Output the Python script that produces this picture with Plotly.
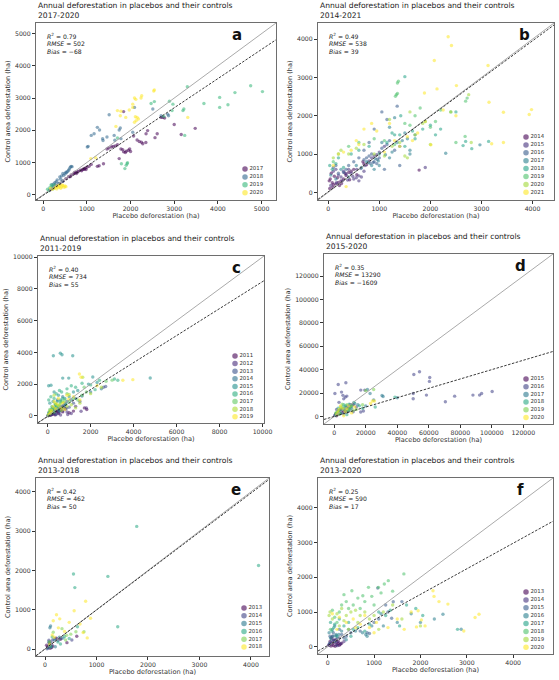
import plotly.graph_objects as go
from plotly.colors import sample_colorscale

# ---- panel a : 2017-2020 ----
A_YEARS = [2017, 2018, 2019, 2020]
A_X = [
    [150, 220, 300, 380, 450, 520, 580, 640, 700, 730, 760, 800, 850, 900, 930, 960, 1000, 1050, 1100, 720, 880, 980,
     1240, 1380, 1280, 1500, 1560, 1600, 1650, 1700, 1460, 1820, 1840, 1900, 1950, 1740, 2070, 2150, 2250, 2280, 2350,
     2355, 2390, 2610, 2560, 2700, 2740, 2780, 3000, 3160, 3480, 1980, 2000, 1880, 1780, 1840, 2200, 620, 780, 940],
    [200, 240, 300, 350, 380, 420, 470, 500, 530, 560, 600, 620, 640, 660, 580, 450, 520, 400, 320, 270,
     1010, 1030, 1100, 1165, 1240, 1290, 1360, 1370, 1460, 1510, 1625, 1740, 1765, 2090, 1780, 2700, 2850, 2870,
     2510, 2050, 1640, 230, 280, 360, 440],
    [100, 150, 200, 250, 1920, 1930, 1900, 1870, 1790, 3200, 3220, 3300, 3680, 4040, 4040, 4230, 4390, 4750, 5020,
     2890, 2950, 2970, 2760, 2470, 2545, 3240, 1700, 130, 180, 220],
    [170, 210, 280, 300, 330, 360, 380, 420, 450, 480, 500, 350, 400, 260, 1090, 1200, 2530, 2545, 2090, 2120, 2240,
     2255, 2050, 2050, 1700, 1780, 1765, 1665, 1890, 2110, 2150, 2180, 2130, 2090, 3310, 1970, 310, 440, 520],
]
A_Y = [
    [140, 200, 270, 340, 420, 500, 560, 610, 650, 700, 660, 720, 760, 780, 800, 820, 850, 880, 940, 680, 740, 780,
     880, 960, 900, 1450, 1480, 1500, 1510, 1550, 1420, 1400, 1330, 1350, 1380, 1120, 1820, 1700, 1630, 1580, 1620,
     1890, 1990, 1890, 1770, 2400, 2400, 2380, 2180, 1870, 2060, 1420, 1340, 1310, 1420, 2580, 1650, 560, 700, 790],
    [310, 330, 400, 330, 550, 580, 600, 650, 680, 720, 800, 850, 880, 870, 760, 660, 700, 480, 460, 380,
     1480, 1500, 1840, 1890, 2090, 2010, 1740, 1680, 1790, 2480, 1840, 2010, 2070, 2710, 1740, 2450, 2500, 2450,
     2660, 1940, 1690, 250, 300, 360, 420],
    [170, 220, 250, 300, 960, 990, 910, 810, 960, 2610, 2660, 3350, 2830, 3020, 2710, 2790, 3170, 3380, 3200,
     2900, 2610, 2810, 2430, 2830, 2890, 1840, 1760, 120, 300, 180],
    [195, 165, 230, 260, 280, 260, 300, 240, 280, 230, 270, 220, 200, 200, 1120, 1150, 3220, 3250, 3000, 2960, 3000,
     3070, 2810, 2710, 2610, 2590, 2450, 2120, 2400, 2420, 2400, 2350, 2300, 2250, 2400, 2630, 180, 300, 250],
]
A_STATS = ["0.79", "502", "\u221268"]
A_FIT = (0.906, -20)

# ---- panel b : 2014-2021 ----
B_YEARS = [2014, 2015, 2016, 2017, 2018, 2019, 2020, 2021]
B_X = [
    [20, 40, 80, 100, 150, 200, 120, 60, 250, 300, 330, 400, 450, 500, 700, 680, 750, 1780, 30, 180, 220, 90, 350,
     260, 420, 560],
    [50, 100, 150, 200, 250, 300, 350, 400, 450, 500, 550, 600, 650, 700, 800, 850, 900, 950, 1000, 1100, 1900,
     600, 560, 380, 720, 160, 280, 480],
    [100, 150, 200, 300, 350, 400, 500, 600, 700, 750, 800, 850, 900, 950, 1000, 1050, 1150, 1200, 1300, 1400,
     1050, 900, 1150, 1350, 800, 700, 1400, 1100, 880, 960, 640, 820],
    [50, 150, 250, 400, 550, 650, 750, 850, 900, 1000, 1050, 1200, 1250, 1350, 1450, 1500, 1550, 1600, 1700,
     2300, 2970, 1200, 1300, 1600, 920, 980, 780, 1120],
    [30, 80, 150, 200, 300, 450, 600, 800, 1000, 1150, 1250, 1400, 1500, 1650, 1700, 1850, 2000, 2100, 2200,
     2500, 2640, 2690, 2810, 3140, 1500, 1420, 1300],
    [1316, 1335, 1355, 1355, 1374, 100, 200, 400, 600, 900, 1100, 1300, 1500, 1600, 1700, 1800, 1900, 2000, 2200,
     2400, 2690, 2720, 2680, 2500, 2100],
    [100, 250, 400, 550, 700, 900, 1100, 1250, 1400, 1500, 1550, 1700, 2000, 2400, 2750, 2800, 1200, 1600, 1850],
    [100, 200, 300, 350, 450, 550, 600, 700, 850, 950, 1100, 1200, 1300, 1400, 1550, 1650, 1750, 1900, 2010,
     2077, 2130, 1884, 2348, 2413, 2510, 3129, 3148, 3430, 3935, 3980, 3200, 3430, 2500, 2250],
]
B_Y = [
    [300, 350, 250, 200, 220, 260, 420, 500, 300, 350, 500, 520, 550, 600, 740, 800, 720, 580, 100, 380, 180, 130, 440,
     230, 330, 460],
    [180, 550, 600, 450, 400, 550, 480, 600, 500, 350, 380, 430, 400, 550, 820, 900, 950, 980, 1050, 1200, 650,
     300, 600, 320, 700, 250, 300, 420],
    [650, 700, 500, 520, 600, 700, 800, 900, 850, 900, 950, 1000, 800, 750, 900, 1150, 1250, 1350, 1100, 1200,
     2100, 1650, 1900, 2250, 1300, 1100, 700, 600, 780, 860, 620, 760],
    [450, 350, 600, 400, 700, 650, 800, 700, 600, 700, 1300, 900, 1050, 1300, 1350, 1550, 1400, 1100, 1500,
     1020, 1240, 1700, 1950, 1000, 880, 820, 780, 980],
    [700, 600, 750, 900, 650, 1000, 1100, 1200, 1000, 1300, 1550, 1500, 1200, 1600, 1400, 1650, 1750, 1500, 1650,
     2100, 1220, 1330, 1140, 1330, 3020, 2000, 1500],
    [2510, 2550, 2580, 2855, 2900, 800, 1000, 1200, 1300, 1400, 1350, 1250, 1800, 1750, 2000, 2200, 1850, 1700, 2150,
     2100, 2380, 2460, 1460, 1300, 1850],
    [900, 1100, 1000, 1150, 1250, 1000, 950, 1200, 1300, 950, 900, 1500, 1250, 2100, 2550, 1300, 1900, 2100, 1800],
    [700, 1000, 1050, 150, 1100, 1350, 1250, 1650, 1800, 1600, 1050, 1800, 1350, 1200, 1450, 1350, 1550, 1850, 1240,
     3440, 2700, 2594, 4060, 3834, 2786, 3310, 2350, 2090, 2030, 2160, 1270, 1300, 2000, 2150],
]
B_STATS = ["0.49", "538", "39"]
B_FIT = (0.985, 15)

# ---- panel c : 2011-2019 ----
C_YEARS = [2011, 2012, 2013, 2014, 2015, 2016, 2017, 2018, 2019]
C_X = [
    [50, 100, 200, 300, 150, 400, 600, 800, 1200, 1710, 1820, 1000, 500, 250, 350, 700, 20, 90, 180, 450, 560],
    [80, 250, 350, 450, 700, 900, 1100, 1555, 933, 1300, 1800, 600, 150, 520, 820, 30, 120, 280, 400, 650],
    [120, 300, 500, 650, 800, 1000, 1200, 1500, 400, 2600, 2700, 200, 560, 880, 60, 160, 240, 380, 720],
    [60, 200, 350, 550, 750, 900, 1100, 1300, 1600, 2000, 2500, 700, 450, 280, 620, 20, 110, 320, 480, 820],
    [264, 590, 668, 1166, 47, 155, 700, 980, 300, 500, 100, 250, 600, 800, 1000, 1200, 400, 4774, 2100, 1400, 1900,
     2300, 180, 350, 60, 130, 220, 450, 520],
    [50, 150, 300, 400, 550, 650, 900, 1100, 1300, 1600, 2000, 2208, 2410, 3110, 3266, 600, 200, 850, 450, 120,
     80, 260, 380, 700],
    [100, 250, 400, 600, 800, 1000, 1200, 1400, 1600, 1800, 2720, 3000, 1700, 900, 300, 520, 40, 180, 340, 680],
    [80, 200, 350, 500, 700, 900, 1100, 1300, 1500, 1633, 2000, 2500, 1000, 300, 420, 650, 30, 140, 560, 760],
    [150, 300, 500, 700, 900, 1200, 1477, 1555, 3500, 3965, 1500, 2300, 600, 800, 250, 420, 70, 180, 360, 980],
]
C_Y = [
    [30, 80, 150, 200, 120, 300, 400, 500, 300, 500, 400, 200, 150, 100, 60, 250, 10, 40, 90, 250, 330],
    [60, 250, 100, 350, 300, 250, 150, 290, 84, 600, 500, 50, 40, 180, 420, 20, 90, 200, 320, 480],
    [150, 350, 450, 600, 700, 550, 800, 900, 100, 1800, 1850, 120, 300, 480, 70, 180, 260, 410, 620],
    [200, 300, 500, 300, 650, 900, 1000, 1100, 1250, 1500, 1700, 1200, 1000, 250, 550, 30, 130, 380, 440, 760],
    [3790, 3950, 3850, 3790, 1900, 1930, 2380, 2380, 1500, 1300, 800, 900, 1000, 1100, 1200, 1500, 600, 2385, 2450,
     1600, 2000, 2100, 400, 700, 200, 300, 520, 900, 460],
    [1000, 1200, 1100, 1400, 1600, 1500, 1700, 1900, 1800, 2050, 1950, 1650, 2240, 2320, 2240, 900, 600, 750, 500, 300,
     150, 400, 700, 1100],
    [400, 500, 700, 800, 1000, 900, 1100, 1000, 1300, 1500, 2180, 2250, 1800, 1400, 250, 600, 60, 300, 450, 900],
    [300, 250, 800, 650, 500, 600, 700, 500, 800, 2430, 1400, 1800, 1350, 1300, 450, 350, 50, 180, 700, 850],
    [200, 900, 1100, 800, 1300, 1200, 2640, 2430, 2240, 2280, 1000, 1900, 500, 400, 600, 750, 120, 350, 450, 1050],
]
C_STATS = ["0.40", "734", "55"]
C_FIT = (0.85, -45)

# ---- panel d : 2015-2020 ----
D_YEARS = [2015, 2016, 2017, 2018, 2019, 2020]
D_X = [
    [1000, 3000, 5000, 7000, 2000, 9000, 4000, 12000, 500, 6000, 10500, 1500, 3500, 8000],
    [2526, 421, 7370, 8000, 6000, 7000, 5500, 4630, 50500, 54100, 60600, 60400, 50100, 50100, 58500, 70500, 76400,
     88000, 92200, 93500, 100200, 18500, 16800, 16840, 19370, 3000, 1500, 8000, 10000, 12000, 14000, 500, 4500],
    [21050, 22740, 30310, 31000, 40000, 2000, 5000, 8000, 11000, 13000, 15000, 6000, 9000, 25000, 20000, 3500,
     1000, 7000, 10000],
    [38500, 1000, 3000, 5000, 7000, 9000, 11000, 4000, 2500, 6000, 12500, 16000, 18000, 26000, 8000, 10000,
     1500, 3500, 5500, 7500, 9500],
    [2000, 4000, 6000, 8000, 10000, 3000, 12000, 14000, 25000, 20000, 5000, 18000, 7000, 1000, 9000, 11000],
    [1500, 3000, 5000, 7000, 9000, 4000, 24200, 25500, 23000, 11000, 6000, 2500, 8000, 13000],
]
D_Y = [
    [2000, 4000, 3000, 5000, 1500, 7000, 6000, 10000, 800, 4500, 8500, 500, 2500, 3500],
    [27300, 19600, 28700, 17350, 15000, 16500, 18000, 20760, 35800, 38100, 33300, 29900, 19600, 15100, 18200, 12500,
     17300, 18200, 18200, 19600, 21300, 4550, 3700, 22470, 22470, 12000, 6000, 8000, 10000, 4000, 8000, 1000, 5000],
    [23040, 19620, 17920, 17000, 15900, 3000, 6000, 9000, 7000, 11000, 10000, 2000, 4500, 14000, 9000, 5000,
     2000, 7500, 5500],
    [16500, 1000, 5000, 8000, 9000, 6000, 9500, 3000, 7000, 10000, 12000, 9000, 7000, 8000, 1500, 7500,
     3000, 2000, 6500, 4500, 10500],
    [4000, 8000, 6000, 10000, 8000, 2000, 5000, 6000, 23000, 22000, 10500, 10000, 7000, 3000, 5500, 9000],
    [1500, 6000, 7000, 4000, 9000, 9000, 13100, 13100, 11000, 3000, 500, 3500, 6500, 8000],
]
D_STATS = ["0.35", "13290", "\u22121609"]
D_FIT = (0.40, 0)

# ---- panel e : 2013-2018 ----
E_YEARS = [2013, 2014, 2015, 2016, 2017, 2018]
E_X = [
    [617, 426, 50, 100, 30, 150, 220, 300, 80, 130, 60],
    [76, 95, 108, 521, 200, 120, 40, 250, 310, 150],
    [108, 95, 60, 180, 280, 350, 120, 75, 200, 90],
    [1781, 4147, 553, 1221, 579, 1412, 630, 140, 110, 250, 380, 470, 300],
    [757, 400, 600, 160, 330, 420, 500, 90],
    [789, 566, 223, 286, 820, 884, 160, 260, 380, 470, 680, 740, 140, 90, 180],
]
E_Y = [
    [328, 164, 60, 20, 100, 80, 280, 250, 160, 40, 40],
    [225, 138, 181, 233, 270, 100, 10, 220, 270, 230],
    [587, 544, 30, 230, 300, 280, 60, 180, 60, 100],
    [3119, 2125, 1909, 1849, 1564, 570, 570, 310, 60, 180, 320, 270, 130],
    [440, 230, 440, 430, 520, 350, 380, 180],
    [1218, 976, 873, 769, 285, 786, 720, 540, 450, 680, 640, 420, 360, 120, 300],
]
E_STATS = ["0.42", "462", "50"]
E_FIT = (0.99, 5)

# ---- panel f : 2013-2020 ----
F_YEARS = [2013, 2014, 2015, 2016, 2017, 2018, 2019, 2020]
F_X = [
    [100, 150, 200, 250, 50, 120, 180, 300, 80, 230, 160, 220, 30, 70, 130, 270],
    [60, 130, 200, 280, 100, 180, 250, 40, 350, 160, 20, 90, 210],
    [1079, 1414, 1379, 1250, 50, 120, 200, 300, 400, 500, 700, 850, 900, 1000, 1300, 1100, 250, 1600, 80,
     40, 150, 180, 350],
    [2879, 2486, 2300, 30, 100, 180, 300, 450, 600, 750, 820, 850, 950, 1150, 1200, 1500, 1800, 2000, 150, 400,
     60, 120, 240],
    [60, 150, 250, 350, 450, 550, 650, 800, 900, 1100, 1250, 1350, 1550, 1700, 1900, 2050, 2800, 200, 500, 90, 130],
    [1643, 1307, 1221, 1093, 879, 757, 521, 350, 400, 650, 800, 950, 1150, 450, 250, 100, 300, 550, 700, 1400, 150,
     1000, 60, 200],
    [30, 100, 200, 300, 400, 500, 600, 700, 800, 1000, 1200, 1400, 250, 350, 450, 650, 900, 1600, 1100, 2000, 50],
    [2271, 2293, 1950, 2021, 1914, 2593, 3179, 3264, 2936, 100, 250, 400, 550, 700, 800, 900, 1050, 1300, 1500, 1650,
     1800, 2100, 2400, 1000, 600, 200],
]
F_Y = [
    [80, 120, 60, 40, 150, 30, 200, 100, 250, 150, 10, 100, 50, 20, 180, 70],
    [100, 200, 140, 90, 300, 50, 250, 60, 150, 170, 40, 120, 30],
    [1690, 1295, 821, 1200, 300, 400, 250, 350, 300, 400, 450, 400, 380, 700, 1000, 800, 500, 1300, 200,
     100, 150, 320, 250],
    [502, 937, 800, 400, 500, 350, 450, 500, 450, 400, 350, 300, 600, 950, 600, 700, 950, 700, 600, 200,
     250, 300, 350],
    [700, 650, 800, 600, 700, 500, 550, 450, 650, 1000, 900, 1050, 600, 1200, 1100, 900, 500, 300, 300, 450, 550],
    [2097, 1903, 1807, 1710, 1710, 1469, 1614, 1500, 1300, 1400, 1300, 1450, 1550, 1100, 1000, 1050, 1200, 1200, 1100,
     1600, 850, 1200, 500, 700],
    [900, 800, 950, 1100, 900, 1000, 1050, 900, 1000, 900, 1000, 1200, 600, 750, 500, 700, 800, 800, 500, 600, 1000],
    [1614, 1449, 1034, 773, 570, 1227, 841, 937, 454, 950, 850, 700, 800, 650, 900, 550, 700, 550, 800, 500,
     1000, 600, 1300, 400, 550, 500],
]
F_STATS = ["0.25", "590", "17"]
F_FIT = (0.737, 33)

TITLE = "Annual deforestation in placebos and their controls"
PERIODS = ["2017-2020", "2014-2021", "2011-2019", "2015-2020", "2013-2018", "2013-2020"]
LETTERS = ["a", "b", "c", "d", "e", "f"]

W, H = 559, 680
FONT = "DejaVu Sans"

# box in px (left, top, right, bottom), axis limits, tick step,
# legend (marker x, first row y, row step), letter right-edge inset
panels = [
    dict(years=A_YEARS, xs=A_X, ys=A_Y, stats=A_STATS, fit=A_FIT, box=(36, 23, 276, 200),
         lim=(-165, 5330), dtick=1000, leg=(245, 169, 7.9), inset=32),
    dict(years=B_YEARS, xs=B_X, ys=B_Y, stats=B_STATS, fit=B_FIT, box=(318, 23, 554, 200),
         lim=(-200, 4420), dtick=1000, leg=(526, 137, 7.9), inset=22),
    dict(years=C_YEARS, xs=C_X, ys=C_Y, stats=C_STATS, fit=C_FIT, box=(38, 256, 264, 423),
         lim=(-450, 10070), dtick=2000, leg=(235, 356, 7.6), inset=21),
    dict(years=D_YEARS, xs=D_X, ys=D_Y, stats=D_STATS, fit=D_FIT, box=(324, 254, 553, 424),
         lim=(-6500, 138800), dtick=20000, leg=(526, 379, 7.7), inset=25),
    dict(years=E_YEARS, xs=E_X, ys=E_Y, stats=E_STATS, fit=E_FIT, box=(36, 478, 269, 656),
         lim=(-175, 4350), dtick=1000, leg=(244, 608, 7.8), inset=26),
    dict(years=F_YEARS, xs=F_X, ys=F_Y, stats=F_STATS, fit=F_FIT, box=(318, 478, 553, 654),
         lim=(-210, 4860), dtick=1000, leg=(526, 592, 7.9), inset=27),
]


def fx(p):
    return min(max(p / W, 0), 1)


def fy(p):
    return min(max(1 - p / H, 0), 1)


fig = go.Figure()
layout = {}
annotations = []

for i, pn in enumerate(panels):
    k = i + 1
    lk = k + 6
    xa, ya = ("x", "y") if k == 1 else (f"x{k}", f"y{k}")
    l, t, r, b = pn["box"]
    lo, hi = pn["lim"]
    n = len(pn["years"])
    colors = sample_colorscale("Viridis", [j / (n - 1) for j in range(n)])

    for j in range(n):
        fig.add_trace(go.Scatter(
            x=pn["xs"][j], y=pn["ys"][j], mode="markers", xaxis=xa, yaxis=ya,
            marker=dict(size=3.4, color=colors[j], opacity=0.55, line=dict(width=0)),
            showlegend=False, hoverinfo="skip"))

    # 1:1 line and fitted line
    fig.add_trace(go.Scatter(x=[lo, hi], y=[lo, hi], mode="lines", xaxis=xa, yaxis=ya,
                             line=dict(color="#a0a0a0", width=0.9), showlegend=False, hoverinfo="skip"))
    sl, ic = pn["fit"]
    fig.add_trace(go.Scatter(x=[lo, hi], y=[sl * lo + ic, sl * hi + ic], mode="lines", xaxis=xa, yaxis=ya,
                             line=dict(color="#222222", width=0.9, dash="2.5px,1.5px"),
                             showlegend=False, hoverinfo="skip"))

    axis_common = dict(range=[lo, hi], dtick=pn["dtick"], tick0=0, tickformat="d", showgrid=False,
                       zeroline=False, showline=True, mirror=True, linecolor="#6e6e6e", linewidth=1,
                       ticks="outside", ticklen=3, tickwidth=0.8, tickcolor="#333", automargin=False,
                       tickfont=dict(family=FONT, size=6.2, color="#333"))
    layout["xaxis" if k == 1 else f"xaxis{k}"] = dict(
        axis_common, domain=[fx(l), fx(r)], anchor=ya,
        title=dict(text="Placebo deforestation (ha)", font=dict(family=FONT, size=6.6, color="#333"), standoff=1))
    layout["yaxis" if k == 1 else f"yaxis{k}"] = dict(
        axis_common, domain=[fy(b), fy(t)], anchor=xa,
        title=dict(text="Control area deforestation (ha)", font=dict(family=FONT, size=6.6, color="#333"),
                   standoff=3))

    # legend drawn on its own small axes
    mx, y0, step = pn["leg"]
    layout[f"xaxis{lk}"] = dict(domain=[fx(mx - 5), fx(mx + 25)], range=[-1, 5], visible=False,
                                anchor=f"y{lk}", fixedrange=True, automargin=False)
    layout[f"yaxis{lk}"] = dict(domain=[fy(y0 + (n - 0.5) * step), fy(y0 - 0.5 * step)],
                                range=[n - 0.5, -0.5], visible=False, anchor=f"x{lk}", fixedrange=True,
                                automargin=False)
    fig.add_trace(go.Scatter(
        x=[0] * n, y=list(range(n)), text=[str(yr) for yr in pn["years"]], mode="markers+text",
        textposition="middle right", textfont=dict(family=FONT, size=5.4, color="#333"),
        marker=dict(size=5.5, color=colors, opacity=0.6, line=dict(width=0)),
        xaxis=f"x{lk}", yaxis=f"y{lk}", showlegend=False, hoverinfo="skip", cliponaxis=False))
    annotations.append(dict(text="Year", xref=f"x{lk}", yref=f"y{lk}", x=2.2, y=-1.15, showarrow=False,
                            xanchor="center", yanchor="middle", font=dict(family=FONT, size=6.4, color="#333")))

    # titles, stats and panel letter
    annotations.append(dict(text=TITLE + "<br>" + PERIODS[i], xref="paper", yref="paper", x=fx(l), y=fy(t - 1),
                            xanchor="left", yanchor="bottom", align="left", showarrow=False,
                            font=dict(family=FONT, size=7.6, color="#222")))
    r2, rmse, bias = pn["stats"]
    annotations.append(dict(
        text=f"<i>R</i><sup>2</sup> = {r2}<br><i>RMSE</i> = {rmse}<br><i>Bias</i> = {bias}",
        xref="paper", yref="paper", x=fx(l + 9), y=fy(t + 7), xanchor="left", yanchor="top", align="left",
        showarrow=False, font=dict(family=FONT, size=6.1, color="#222")))
    annotations.append(dict(text=f"<b>{LETTERS[i]}</b>", xref="paper", yref="paper", x=fx(r - pn["inset"]),
                            y=fy(t + 1), xanchor="right", yanchor="top", showarrow=False,
                            font=dict(family=FONT, size=15, color="#111")))

fig.update_layout(
    width=W, height=H, margin=dict(l=0, r=0, t=0, b=0, autoexpand=False),
    paper_bgcolor="white", plot_bgcolor="white", showlegend=False,
    annotations=annotations, **layout)

fig.write_html("out.html", config={"displayModeBar": False},
               post_script="document.body.style.margin='0';")
